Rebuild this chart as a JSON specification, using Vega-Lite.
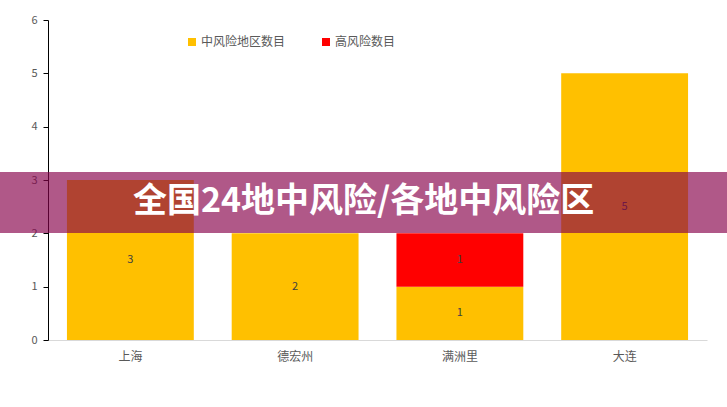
{
  "$schema": "https://vega.github.io/schema/vega-lite/v6.json",
  "width": 659,
  "height": 320,
  "autosize": {"type": "none"},
  "padding": {"left": 48, "top": 20, "right": 20, "bottom": 47},
  "background": "white",
  "config": {"view": {"stroke": null}, "font": "Noto Sans CJK SC"},
  "datasets": {
    "bars": [
      {"city": "上海", "type": "中风险地区数目", "value": 3},
      {"city": "德宏州", "type": "中风险地区数目", "value": 2},
      {"city": "满洲里", "type": "中风险地区数目", "value": 1},
      {"city": "满洲里", "type": "高风险数目", "value": 1},
      {"city": "大连", "type": "中风险地区数目", "value": 5}
    ],
    "banner": [
      {"x0": -0.0729, "x1": 1.0304, "y0": 2.006, "y1": 3.15, "xc": 0.4788, "yc": 2.58, "label": "全国24地中风险/各地中风险区"}
    ]
  },
  "resolve": {"scale": {"x": "independent"}, "axis": {"x": "independent"}},
  "layer": [
    {
      "data": {"name": "bars"},
      "transform": [
        {"stack": "value", "groupby": ["city"], "sort": [{"field": "type", "order": "ascending"}], "as": ["s0", "s1"]}
      ],
      "mark": {"type": "bar"},
      "encoding": {
        "x": {
          "field": "city", "type": "nominal", "sort": ["上海", "德宏州", "满洲里", "大连"],
          "scale": {"paddingInner": 0.23, "paddingOuter": 0.115},
          "axis": {"title": null, "ticks": false, "domainColor": "#D9D9D9", "labelColor": "#595959", "labelFontSize": 12, "labelPadding": 11, "labelAngle": 0, "labelFont": "Noto Sans CJK SC"}
        },
        "y": {
          "field": "s1", "type": "quantitative",
          "scale": {"domain": [0, 6]},
          "axis": {"title": null, "grid": false, "values": [0, 1, 2, 3, 4, 5, 6], "labelOverlap": false, "domainColor": "#000000", "tickColor": "#000000", "tickSize": 5, "labelColor": "#595959", "labelFontSize": 11, "labelPadding": 6, "labelFont": "Noto Sans CJK SC"}
        },
        "y2": {"field": "s0"},
        "color": {
          "field": "type", "type": "nominal",
          "scale": {"domain": ["中风险地区数目", "高风险数目"], "range": ["#FFC000", "#FF0000"]},
          "legend": {"title": null, "orient": "none", "legendX": 138, "legendY": 16, "direction": "horizontal", "symbolType": "square", "symbolSize": 64, "symbolStrokeWidth": 0, "labelColor": "#595959", "labelFontSize": 12, "labelFont": "Noto Sans CJK SC", "columnPadding": 34, "labelOffset": 3}
        }
      }
    },
    {
      "data": {"name": "bars"},
      "transform": [
        {"stack": "value", "groupby": ["city"], "sort": [{"field": "type", "order": "ascending"}], "as": ["s0", "s1"]},
        {"fold": ["s0", "s1"], "as": ["edge", "pos"]},
        {"aggregate": [{"op": "mean", "field": "pos", "as": "mid"}], "groupby": ["city", "type", "value"]}
      ],
      "mark": {"type": "text", "fontSize": 11, "color": "#404040", "baseline": "middle", "font": "Noto Sans CJK SC"},
      "encoding": {
        "x": {
          "field": "city", "type": "nominal", "sort": ["上海", "德宏州", "满洲里", "大连"],
          "scale": {"paddingInner": 0.23, "paddingOuter": 0.115},
          "axis": null
        },
        "y": {"field": "mid", "type": "quantitative", "scale": {"domain": [0, 6]}},
        "text": {"field": "value", "type": "quantitative"}
      }
    },
    {
      "data": {"name": "banner"},
      "mark": {"type": "rect", "color": "#87024A", "opacity": 0.66, "clip": false},
      "encoding": {
        "x": {"field": "x0", "type": "quantitative", "scale": {"domain": [0, 1], "zero": false, "nice": false}, "axis": null},
        "x2": {"field": "x1"},
        "y": {"field": "y1", "type": "quantitative", "scale": {"domain": [0, 6]}},
        "y2": {"field": "y0"}
      }
    },
    {
      "data": {"name": "banner"},
      "mark": {"type": "text", "color": "white", "fontSize": 34, "fontWeight": "bold", "font": "Noto Sans CJK SC", "align": "center", "baseline": "middle"},
      "encoding": {
        "x": {"field": "xc", "type": "quantitative", "scale": {"domain": [0, 1], "zero": false, "nice": false}, "axis": null},
        "y": {"field": "yc", "type": "quantitative", "scale": {"domain": [0, 6]}},
        "text": {"field": "label"}
      }
    }
  ]
}
